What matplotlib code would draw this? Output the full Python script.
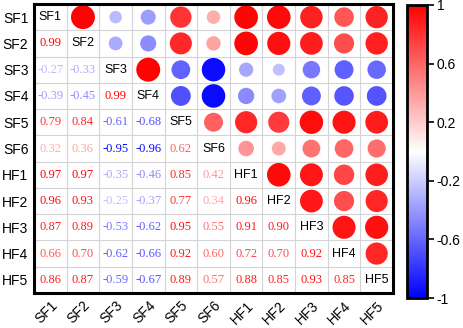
import numpy as np
import matplotlib
matplotlib.use("Agg")
import matplotlib.pyplot as plt
from matplotlib import cm, colors

labels = ["SF1", "SF2", "SF3", "SF4", "SF5", "SF6", "HF1", "HF2", "HF3", "HF4", "HF5"]
lower = [
    [],
    [0.99],
    [-0.27, -0.33],
    [-0.39, -0.45, 0.99],
    [0.79, 0.84, -0.61, -0.68],
    [0.32, 0.36, -0.95, -0.96, 0.62],
    [0.97, 0.97, -0.35, -0.46, 0.85, 0.42],
    [0.96, 0.93, -0.25, -0.37, 0.77, 0.34, 0.96],
    [0.87, 0.89, -0.53, -0.62, 0.95, 0.55, 0.91, 0.90],
    [0.66, 0.70, -0.62, -0.66, 0.92, 0.60, 0.72, 0.70, 0.92],
    [0.86, 0.87, -0.59, -0.67, 0.89, 0.57, 0.88, 0.85, 0.93, 0.85],
]
cbar_ticks = [-1, -0.6, -0.2, 0.2, 0.6, 1]
cbar_ticklabels = ["-1", "-0.6", "-0.2", "0.2", "0.6", "1"]

n = len(labels)
M = np.eye(n)
for i, row in enumerate(lower):
    for j, v in enumerate(row):
        M[i, j] = v
        M[j, i] = v

cmap = plt.get_cmap("bwr")
norm = colors.Normalize(-1, 1)

fig = plt.figure(figsize=(4.63, 3.28), dpi=100)
ax = fig.add_axes([34/463, 1-293/328, 359/463, 289/328])

# grid
for k in range(n + 1):
    ax.axhline(k - 0.5, color="#d4d4d4", lw=0.8, zorder=1)
    ax.axvline(k - 0.5, color="#d4d4d4", lw=0.8, zorder=1)

xs, ys, ss, cs = [], [], [], []
for i in range(n):
    for j in range(n):
        v = M[i, j]
        if j > i:
            xs.append(j); ys.append(i)
            ss.append(300 * abs(v)); cs.append(cmap(norm(v)))
        elif j < i:
            ax.text(j, i, f"{v:.2f}", ha="center", va="center",
                    fontsize=9, family="Liberation Serif", color=cmap(norm(v)), zorder=3)
        else:
            ax.text(j, i, labels[i], ha="center", va="center",
                    fontsize=9, family="Liberation Sans", color="black", zorder=3)
ax.scatter(xs, ys, s=ss, c=cs, edgecolors="none", zorder=2)

ax.set_xlim(-0.5, n - 0.5)
ax.set_ylim(n - 0.5, -0.5)
ax.set_xticks(range(n))
ax.set_yticks(range(n))
ax.set_xticklabels(labels, rotation=45, ha="right", rotation_mode="anchor",
                   fontsize=10, family="Liberation Sans")
ax.set_yticklabels(labels, fontsize=10, family="Liberation Sans")
ax.tick_params(length=0, pad=4)
for sp in ax.spines.values():
    sp.set_linewidth(2.2)
    sp.set_color("black")

cax = fig.add_axes([407/463, 1-298/328, 20/463, 293/328])
sm = cm.ScalarMappable(norm=norm, cmap=cmap)
cb = fig.colorbar(sm, cax=cax, ticks=cbar_ticks)
cb.ax.set_yticklabels(cbar_ticklabels, fontsize=10, family="Liberation Sans")
cb.ax.tick_params(length=5, width=1.2, pad=2)
cb.outline.set_linewidth(2)

fig.savefig("out.png", dpi=100)
